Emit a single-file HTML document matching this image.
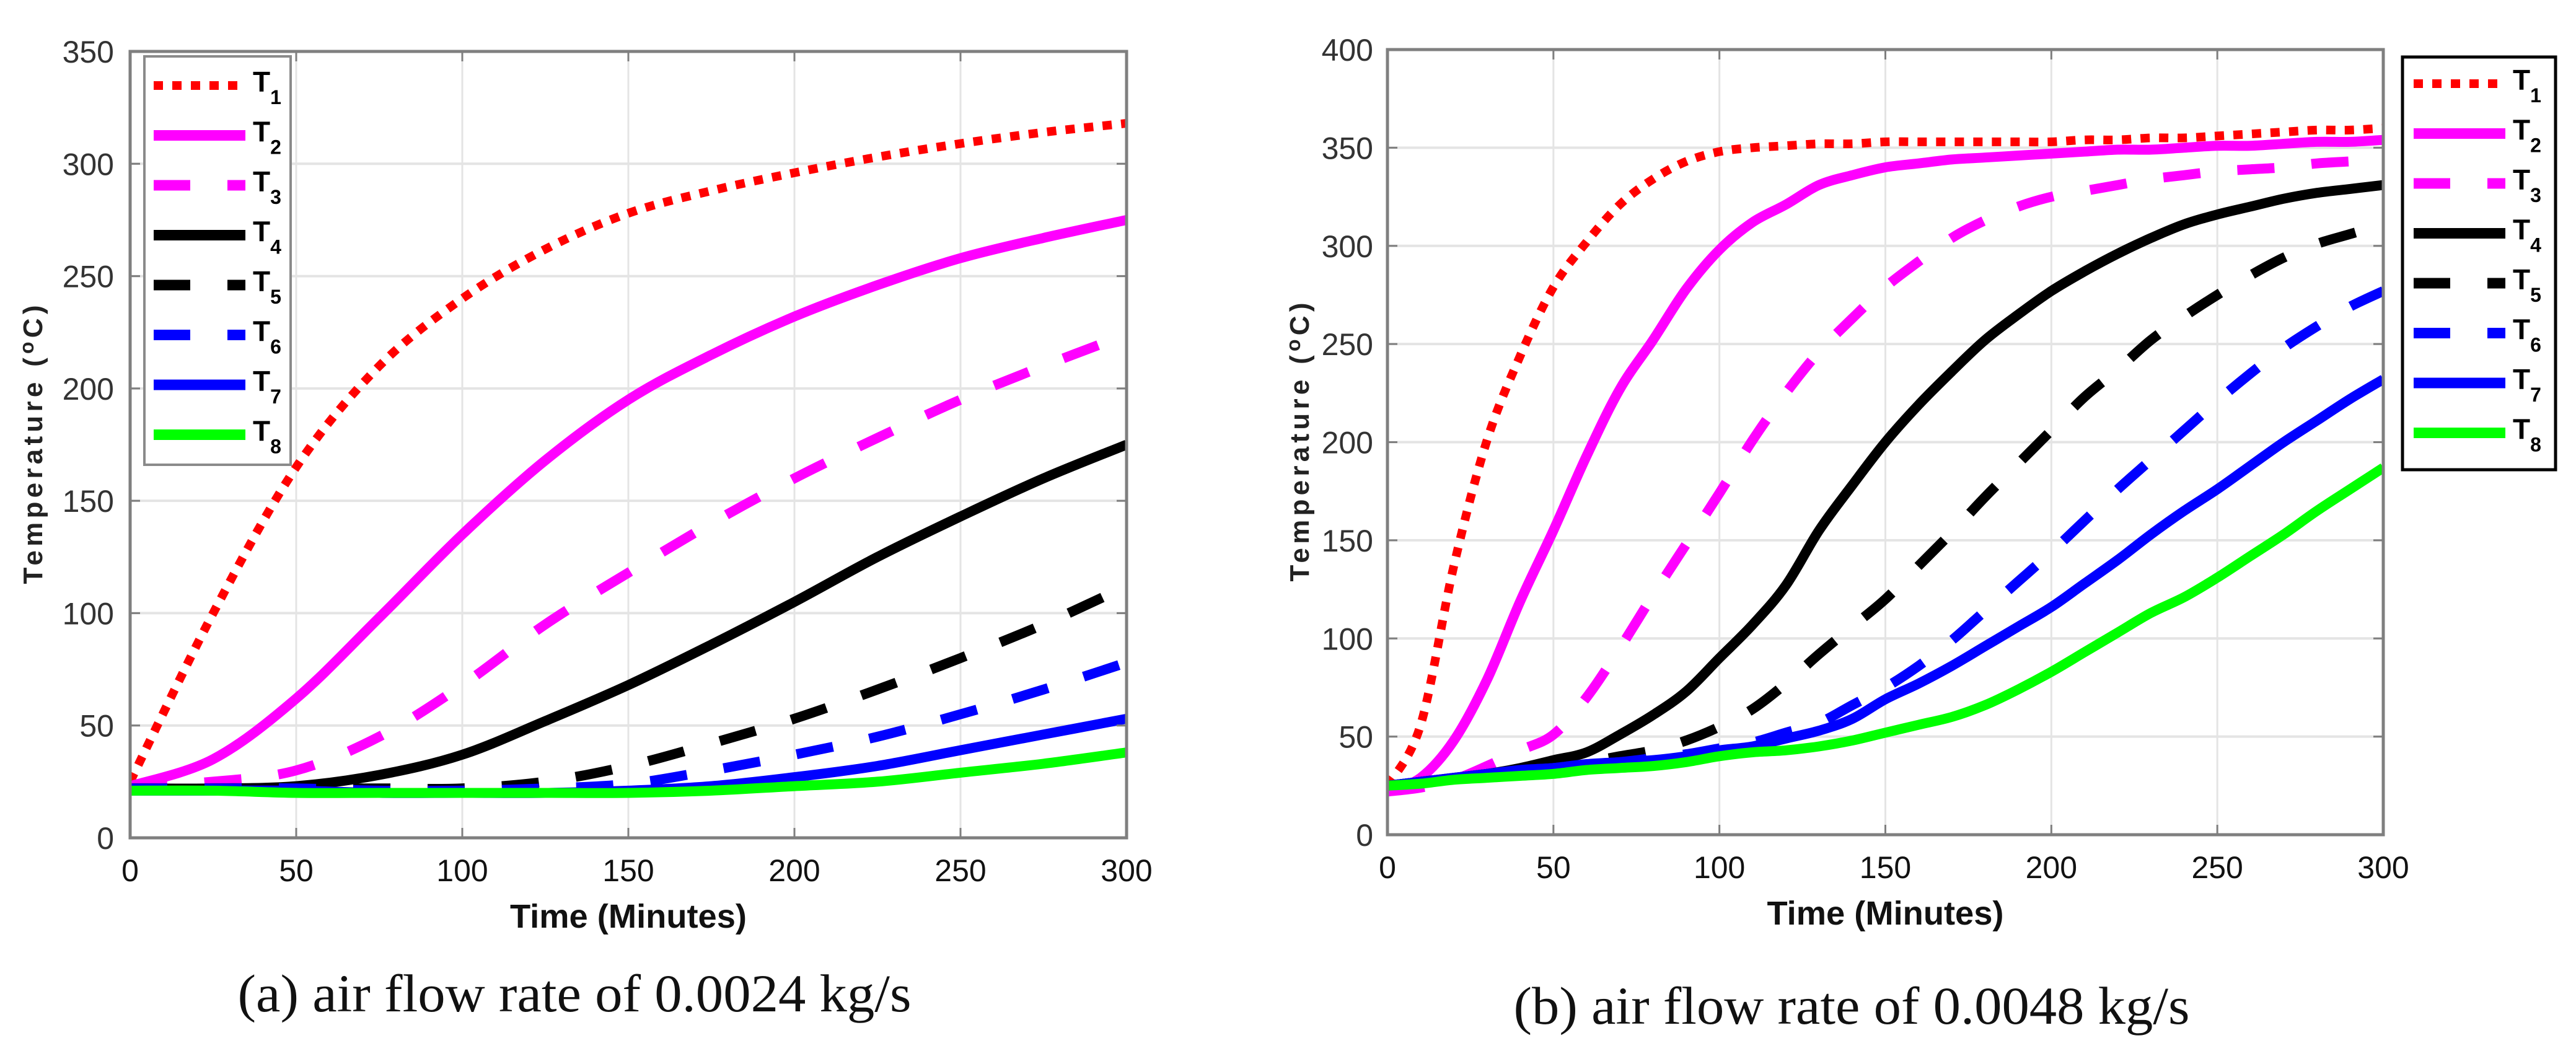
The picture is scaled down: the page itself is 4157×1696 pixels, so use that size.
<!DOCTYPE html>
<html><head><meta charset="utf-8"><style>
html,body{margin:0;padding:0;background:#fff;}
svg{display:block;}
</style></head><body>
<svg id="fig" width="4157" height="1696" viewBox="0 0 4157 1696" xmlns="http://www.w3.org/2000/svg">
<defs>
<clipPath id="clipA"><rect x="210" y="83" width="1608" height="1269"/></clipPath>
<clipPath id="clipB"><rect x="2239" y="80" width="1607" height="1267"/></clipPath>
</defs>
<rect width="4157" height="1696" fill="#fff"/>
<g id="chartA"></g>
<g id="chartB"></g>
<text x="927" y="1632" text-anchor="middle" font-family="Liberation Serif, serif" font-size="86" textLength="1087" lengthAdjust="spacingAndGlyphs" fill="#111">(a) air flow rate of 0.0024 kg/s</text>
<text x="2988" y="1652" text-anchor="middle" font-family="Liberation Serif, serif" font-size="86" textLength="1091" lengthAdjust="spacingAndGlyphs" fill="#111">(b) air flow rate of 0.0048 kg/s</text>
</svg>
<script>
const xTicks = [0,50,100,150,200,250,300];
const yTicksA = [0,50,100,150,200,250,300,350];
const yTicksB = [0,50,100,150,200,250,300,350,400];
const seriesNames = ["T1","T2","T3","T4","T5","T6","T7","T8"];
const timeA = [0,25,50,75,100,125,150,175,200,225,250,275,300];
const a_T1 = [25,100,165,210,240,262,278,288,296,303,309,314,318];
const a_T2 = [23,35,62,98,135,168,195,215,232,246,258,267,275];
const a_T3 = [23,25,30,45,68,95,118,140,160,178,195,210,224];
const a_T4 = [22,22,23,28,37,52,68,86,105,125,143,160,175];
const a_T5 = [22,22,22,22,22,25,32,42,53,66,80,95,112];
const a_T6 = [22,22,22,21,21,22,24,30,37,45,55,66,78];
const a_T7 = [21,21,21,20,20,20,21,23,27,32,39,46,53];
const a_T8 = [21,21,20,20,20,20,20,21,23,25,29,33,38];
const timeB = [0,10,20,30,40,50,60,70,80,90,100,110,120,130,140,150,160,170,180,190,200,210,220,230,240,250,260,270,280,290,300];
const b_T1 = [25,56,137,201,244,279,302,321,334,343,348,350,351,352,352,353,353,353,353,353,353,354,354,355,355,356,357,358,359,359,360];
const b_T2 = [22,29,48,79,119,155,193,227,252,278,298,312,321,331,336,340,342,344,345,346,347,348,349,349,350,351,351,352,353,353,354];
const b_T3 = [22,24,28,35,43,51,70,95,122,148,174,201,225,246,263,279,292,304,313,320,325,328,331,334,336,338,339,340,342,343,344];
const b_T4 = [25,27,29,31,34,38,42,51,61,73,90,107,127,155,178,200,219,236,252,265,277,287,296,304,311,316,320,324,327,329,331];
const b_T5 = [25,27,29,31,33,35,37,40,43,48,55,64,77,92,106,120,137,154,172,189,206,223,237,252,264,275,285,294,301,306,311];
const b_T6 = [25,27,29,31,33,34,36,37,39,41,44,47,52,57,66,75,86,99,114,129,144,160,176,191,206,221,235,248,259,269,277];
const b_T7 = [25,27,29,31,33,34,36,37,38,40,43,45,49,53,59,69,77,86,96,106,116,128,140,153,165,176,188,200,211,222,232];
const b_T8 = [25,26,28,29,30,31,33,34,35,37,40,42,43,45,48,52,56,60,66,74,83,93,103,113,121,131,142,153,165,176,187];

const NS = "http://www.w3.org/2000/svg";
const colors = ["#ff0000","#ff00ff","#ff00ff","#000000","#000000","#0000ff","#0000ff","#00ff00"];
const dashes = ["15 15","","60 60","","60 60","60 60","",""];
const widths = [14,16,16,16,16,16,16,16];

function mk(parent, tag, attrs){
  const e = document.createElementNS(NS, tag);
  for (const k in attrs) e.setAttribute(k, attrs[k]);
  parent.appendChild(e);
  return e;
}
function smoothPath(pts){
  let d = "M"+pts[0][0].toFixed(1)+","+pts[0][1].toFixed(1);
  for (let i=0;i<pts.length-1;i++){
    const p0=pts[Math.max(0,i-1)], p1=pts[i], p2=pts[i+1], p3=pts[Math.min(pts.length-1,i+2)];
    const c1x=p1[0]+(p2[0]-p0[0])/6, c1y=p1[1]+(p2[1]-p0[1])/6;
    const c2x=p2[0]-(p3[0]-p1[0])/6, c2y=p2[1]-(p3[1]-p1[1])/6;
    d += " C"+c1x.toFixed(1)+","+c1y.toFixed(1)+" "+c2x.toFixed(1)+","+c2y.toFixed(1)+" "+p2[0].toFixed(1)+","+p2[1].toFixed(1);
  }
  return d;
}

function drawChart(g, cfg){
  const {L,R,T,B,yMax,yTicks,times,series,clip,ylabX,ytickX,legend} = cfg;
  const sx = v => L + (v/300)*(R-L);
  const sy = v => B - (v/yMax)*(B-T);
  for (const t of xTicks){
    const ln = mk(g,"line",{x1:sx(t),x2:sx(t),y1:T,y2:B,stroke:"#e4e4e4","stroke-width":3});
    
    
  }
  for (const v of yTicks){
    const ln = mk(g,"line",{x1:L,x2:R,y1:sy(v),y2:sy(v),stroke:"#e4e4e4","stroke-width":4});
    
    
  }
  const sg = mk(g,"g",{"clip-path":"url(#"+clip+")"});
  
  
  series.forEach((vals,i)=>{
    const pts = vals.map((v,j)=>[sx(times[j]), sy(v)]);
    const p = mk(sg,"path",{d:smoothPath(pts),fill:"none",stroke:colors[i],"stroke-width":widths[i],"stroke-linejoin":"round"});
    if (dashes[i]) p.setAttribute("stroke-dasharray",dashes[i]);
    
    
  });
  const box = mk(g,"rect",{x:L,y:T,width:R-L,height:B-T,fill:"none",stroke:"#7f7f7f","stroke-width":5});
  
  
  for (const t of xTicks){
    mk(g,"line",{x1:sx(t),x2:sx(t),y1:B,y2:B-16,stroke:"#7f7f7f","stroke-width":3});
    mk(g,"line",{x1:sx(t),x2:sx(t),y1:T,y2:T+16,stroke:"#7f7f7f","stroke-width":3});
    const tx = mk(g,"text",{x:sx(t),y:B+70,"text-anchor":"middle","font-family":"Liberation Sans, sans-serif","font-size":50,fill:"#111"});
    tx.textContent = t;
    
    
  }
  for (const v of yTicks){
    mk(g,"line",{x1:L,x2:L+16,y1:sy(v),y2:sy(v),stroke:"#7f7f7f","stroke-width":3});
    mk(g,"line",{x1:R,x2:R-16,y1:sy(v),y2:sy(v),stroke:"#7f7f7f","stroke-width":3});
    const tx = mk(g,"text",{x:ytickX,y:sy(v)+18,"text-anchor":"end","font-family":"Liberation Sans, sans-serif","font-size":50,fill:"#333"});
    tx.textContent = v;
    
    
  }
  const xt = mk(g,"text",{x:(L+R)/2,y:B+145,"text-anchor":"middle","font-family":"Liberation Sans, sans-serif","font-size":54,"font-weight":"bold",fill:"#111",textLength:382,lengthAdjust:"spacingAndGlyphs"});
  xt.textContent = "Time (Minutes)";
  
  
  const cy = (T+B)/2;
  const yt = mk(g,"text",{x:ylabX,y:cy,"text-anchor":"middle","font-family":"Liberation Sans, sans-serif","font-size":44,"font-weight":"bold",fill:"#222",transform:"rotate(-90 "+ylabX+" "+cy+")",textLength:450,lengthAdjust:"spacing"});
  yt.innerHTML = 'Temperature  (<tspan dy="-14" font-size="32">o</tspan><tspan dy="14">C)</tspan>';
  
  
  const lg = mk(g,"g",{});
  
  
  const lb = mk(lg,"rect",{x:legend.x,y:legend.y,width:legend.w,height:legend.h,fill:"#fff",stroke:legend.stroke,"stroke-width":legend.sw});
  
  
  seriesNames.forEach((n,i)=>{
    const yy = legend.y0 + i*80.5;
    const ln = mk(lg,"line",{x1:legend.lx1,x2:legend.lx2,y1:yy,y2:yy,stroke:colors[i],"stroke-width":i===0?14:17});
    if (i===0) ln.setAttribute("stroke-dasharray","15 15");
    else if (dashes[i]) ln.setAttribute("stroke-dasharray","59 60");
    
    
    const tx = mk(lg,"text",{x:legend.lx2+12,y:yy+10,"font-family":"Liberation Sans, sans-serif","font-size":46,"font-weight":"bold",fill:"#000"});
    tx.innerHTML = 'T<tspan dy="20" font-size="32">'+(i+1)+'</tspan>';
    
    
  });
}

drawChart(document.getElementById("chartA"), {
  L:210,R:1818,T:83,B:1352,yMax:350,yTicks:yTicksA,times:timeA,
  series:[a_T1,a_T2,a_T3,a_T4,a_T5,a_T6,a_T7,a_T8],clip:"clipA",ylabX:68,ytickX:184,
  legend:{x:233,y:91,w:236,h:659,stroke:"#8a8a8a",sw:4,y0:138,lx1:248,lx2:396}
});
drawChart(document.getElementById("chartB"), {
  L:2239,R:3846,T:80,B:1347,yMax:400,yTicks:yTicksB,times:timeB,
  series:[b_T1,b_T2,b_T3,b_T4,b_T5,b_T6,b_T7,b_T8],clip:"clipB",ylabX:2112,ytickX:2216,
  legend:{x:3877,y:92,w:247,h:666,stroke:"#000",sw:5,y0:135,lx1:3895,lx2:4043}
});
</script>
</body></html>
